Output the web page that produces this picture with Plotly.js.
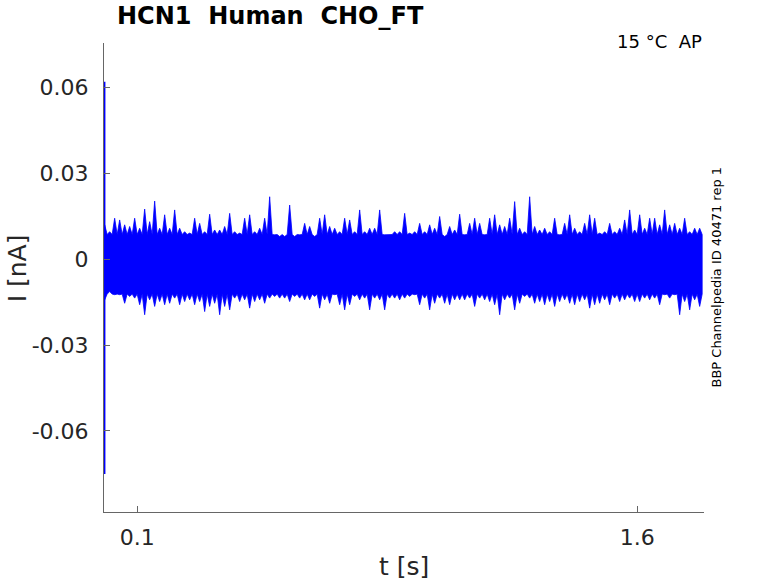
<!DOCTYPE html>
<html>
<head>
<meta charset="utf-8">
<script src="https://cdn.plot.ly/plotly-3.0.1.min.js"></script>
<style>html,body{margin:0;padding:0;background:#fff;}#chart{width:778px;height:583px;}</style>
</head>
<body>
<div id="chart"></div>
<script>
// ---- data ----
// peak (upper envelope) values of the noisy current, one per 0.015 s column, nA
const upperPeaks = [
 0.0120,0.0096,0.0143,0.0137,0.0120,0.0114,0.0143,0.0108,0.0175,0.0131,0.0203,0.0108,0.0155,0.0108,0.0172,0.0108,0.0096,0.0091,0.0143,0.0125,0.0096,0.0157,0.0102,0.0102,0.0114,0.0160,0.0096,0.0091,0.0143,0.0155,
 0.0096,0.0108,0.0143,0.0218,0.0085,0.0079,0.0079,0.0189,0.0079,0.0085,0.0125,0.0114,0.0079,0.0143,0.0155,0.0114,0.0108,0.0096,0.0143,0.0137,0.0096,0.0172,0.0096,0.0108,0.0108,0.0172,0.0085,0.0085,0.0096,0.0096,
 0.0160,0.0091,0.0096,0.0125,0.0096,0.0120,0.0108,0.0149,0.0079,0.0114,0.0102,0.0157,0.0085,0.0125,0.0143,0.0125,0.0085,0.0143,0.0155,0.0120,0.0114,0.0143,0.0201,0.0108,0.0096,0.0218,0.0114,0.0102,0.0108,0.0096,
 0.0143,0.0085,0.0125,0.0155,0.0108,0.0096,0.0125,0.0155,0.0143,0.0091,0.0096,0.0125,0.0096,0.0108,0.0137,0.0172,0.0102,0.0155,0.0108,0.0143,0.0143,0.0120,0.0172,0.0120,0.0125,0.0108,0.0143,0.0096,0.0108,0.0108
];
// trough (lower envelope) values, same columns, nA
const lowerPeaks = [
 -0.0142,-0.0113,-0.0124,-0.0124,-0.0154,-0.0130,-0.0136,-0.0159,-0.0194,-0.0142,-0.0165,-0.0148,-0.0159,-0.0154,-0.0136,-0.0159,-0.0148,-0.0142,-0.0159,-0.0148,-0.0183,-0.0165,-0.0154,-0.0194,-0.0165,-0.0177,-0.0136,-0.0148,-0.0142,-0.0171,
 -0.0148,-0.0142,-0.0154,-0.0136,-0.0130,-0.0136,-0.0136,-0.0148,-0.0130,-0.0136,-0.0142,-0.0142,-0.0130,-0.0171,-0.0142,-0.0154,-0.0124,-0.0159,-0.0177,-0.0159,-0.0130,-0.0142,-0.0136,-0.0177,-0.0136,-0.0142,-0.0177,-0.0136,-0.0136,-0.0142,
 -0.0136,-0.0130,-0.0124,-0.0159,-0.0136,-0.0177,-0.0154,-0.0136,-0.0154,-0.0159,-0.0142,-0.0142,-0.0142,-0.0136,-0.0165,-0.0136,-0.0142,-0.0148,-0.0159,-0.0194,-0.0142,-0.0136,-0.0177,-0.0154,-0.0130,-0.0136,-0.0154,-0.0148,-0.0159,-0.0148,
 -0.0165,-0.0148,-0.0142,-0.0154,-0.0159,-0.0148,-0.0142,-0.0171,-0.0159,-0.0154,-0.0142,-0.0159,-0.0136,-0.0148,-0.0142,-0.0136,-0.0148,-0.0148,-0.0136,-0.0142,-0.0136,-0.0159,-0.0124,-0.0136,-0.0124,-0.0194,-0.0148,-0.0177,-0.0142,-0.0165
];
// level of the solid core of the noise band, nA
const coreTop = 0.0086;
const coreBottom = -0.0122;
// initial capacitive spike at the start of the record
const spikeTime = [0.002, 0.002];
const spikeCurrent = [0.062, -0.075];
const sampleStep = 0.015; // s per column
// axes
const xTickVals = [0.1, 1.6];
const xTickText = ["0.1", "1.6"];
const yTickVals = [0.06, 0.03, 0, -0.03, -0.06];
const yTickText = ["0.06", "0.03", "0", "-0.03", "-0.06"];
const titleText = "HCN1\u00a0\u00a0Human\u00a0\u00a0CHO_FT";
const tempText = "15 °C\u00a0\u00a0AP";
const sideText = "BBP Channelpedia ID 40471 rep 1";

// ---- build band polygon from the envelope arrays ----
const bx = [], by = [];
upperPeaks.forEach((v, i) => {
  const t = i * sampleStep;
  bx.push(t + 0.002); by.push(v);
  bx.push(t + sampleStep / 2 + 0.002); by.push(coreTop);
});
for (let i = lowerPeaks.length - 1; i >= 0; i--) {
  const t = i * sampleStep;
  bx.push(t + sampleStep / 2 + 0.002); by.push(coreBottom);
  bx.push(t + 0.002); by.push(lowerPeaks[i]);
}
bx.push(bx[0]); by.push(by[0]);

const blue = '#0000ff';
const traces = [
  {x: bx, y: by, type: 'scatter', mode: 'lines', fill: 'toself',
   fillcolor: blue, line: {color: blue, width: 0.8}, hoverinfo: 'skip', showlegend: false},
  {x: spikeTime, y: spikeCurrent, type: 'scatter', mode: 'lines',
   line: {color: blue, width: 1.5}, hoverinfo: 'skip', showlegend: false}
];

const tickFont = {family: 'DejaVu Sans', size: 22, color: '#262626'};
const layout = {
  width: 778, height: 583,
  margin: {l: 104, r: 74, t: 43, b: 71, pad: 0},
  paper_bgcolor: '#ffffff', plot_bgcolor: '#ffffff',
  showlegend: false,
  title: {text: titleText, font: {family: 'DejaVu Sans', size: 24, color: '#000000', weight: 'bold'},
          x: 0.0217, xref: 'paper', xanchor: 'left', y: 0.973, yref: 'container', yanchor: 'middle'},
  xaxis: {range: [0, 1.8], tickvals: xTickVals, ticktext: xTickText, ticks: 'inside', ticklen: 6,
          tickcolor: '#666666', tickwidth: 1, showline: true, linecolor: '#666666', linewidth: 1,
          showgrid: false, zeroline: false, tickfont: tickFont, mirror: false, ticklabelstandoff: 6},
  yaxis: {range: [-0.0883, 0.0755], tickvals: yTickVals, ticktext: yTickText, ticks: 'inside', ticklen: 6,
          tickcolor: '#666666', tickwidth: 1, showline: true, linecolor: '#666666', linewidth: 1,
          showgrid: false, zeroline: false, tickfont: tickFont, mirror: false, ticklabelstandoff: 10},
  annotations: [
    {text: tempText, xref: 'paper', yref: 'paper', x: 1, y: 1.0, xanchor: 'right', yanchor: 'middle',
     yshift: 2, showarrow: false, font: {family: 'DejaVu Sans', size: 18, color: '#000000'}},
    {text: sideText, xref: 'paper', yref: 'paper', x: 1.02, y: 0.5, xanchor: 'center', yanchor: 'middle',
     textangle: -90, showarrow: false, font: {family: 'DejaVu Sans', size: 13, color: '#000000'}},
    {text: 'I [nA]', xref: 'paper', yref: 'paper', x: -0.145, y: 0.5195, xanchor: 'center', yanchor: 'middle',
     textangle: -90, showarrow: false, font: {family: 'DejaVu Sans', size: 25, color: '#262626'}},
    {text: 't [s]', xref: 'paper', yref: 'paper', x: 0.5, y: -0.1166, xanchor: 'center', yanchor: 'middle',
     showarrow: false, font: {family: 'DejaVu Sans', size: 25, color: '#262626'}}
  ]
};
Plotly.newPlot('chart', traces, layout, {staticPlot: true, displayModeBar: false});
</script>
</body>
</html>
